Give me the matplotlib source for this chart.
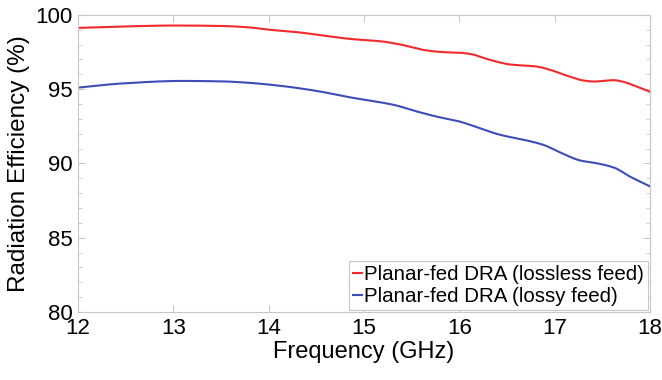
import numpy as np
import matplotlib
matplotlib.use("Agg")
import matplotlib.pyplot as plt
from matplotlib.ticker import MultipleLocator

plt.rcParams['font.family'] = ['Liberation Sans', 'DejaVu Sans']

# frequency points (GHz) and efficiencies (%)
freq_lossless = [12.0, 12.5, 13.0, 13.5, 13.8, 14.0, 14.33, 14.5, 14.85, 15.2, 15.38,
                 15.66, 15.83, 16.0, 16.11, 16.32, 16.53, 16.81, 16.95, 17.13,
                 17.3, 17.41, 17.62, 17.72, 17.86, 18.0]
eff_lossless = [99.12, 99.22, 99.28, 99.25, 99.15, 99.0, 98.81, 98.67, 98.38, 98.2, 98.0,
                97.6, 97.49, 97.45, 97.37, 96.97, 96.66, 96.52, 96.3, 95.9,
                95.58, 95.51, 95.6, 95.49, 95.17, 94.82]

freq_lossy = [12.0, 12.46, 13.09, 13.51, 13.8, 14.15, 14.5, 14.85, 15.31, 15.55,
              15.76, 16.0, 16.11, 16.43, 16.71, 16.88, 17.06, 17.27, 17.44,
              17.62, 17.79, 18.0]
eff_lossy = [95.1, 95.38, 95.55, 95.52, 95.42, 95.2, 94.88, 94.45, 93.94, 93.5,
             93.15, 92.82, 92.6, 91.92, 91.54, 91.25, 90.73, 90.19, 90.01,
             89.72, 89.11, 88.45]

labels = ['Planar-fed DRA (lossless feed)', 'Planar-fed DRA (lossy feed)']


def smooth(x, y, n=300):
    # monotone cubic (pchip-like) interpolation for drawing a smooth curve
    x = np.asarray(x, float)
    y = np.asarray(y, float)
    h = np.diff(x)
    d = np.diff(y) / h
    m = np.zeros_like(y)
    m[0], m[-1] = d[0], d[-1]
    for i in range(1, len(x) - 1):
        if d[i - 1] * d[i] > 0:
            w1 = 2 * h[i] + h[i - 1]
            w2 = h[i] + 2 * h[i - 1]
            m[i] = (w1 + w2) / (w1 / d[i - 1] + w2 / d[i])
    xs = np.linspace(x[0], x[-1], n)
    idx = np.clip(np.searchsorted(x, xs) - 1, 0, len(x) - 2)
    t = (xs - x[idx]) / h[idx]
    h00 = 2 * t**3 - 3 * t**2 + 1
    h10 = t**3 - 2 * t**2 + t
    h01 = -2 * t**3 + 3 * t**2
    h11 = t**3 - t**2
    ys = h00 * y[idx] + h10 * h[idx] * m[idx] + h01 * y[idx + 1] + h11 * h[idx] * m[idx + 1]
    return xs, ys


fig = plt.figure(figsize=(6.62, 3.80), dpi=100)
ax = fig.add_axes([0.118, 0.179, 0.864, 0.782])

xs, ys = smooth(freq_lossless, eff_lossless)
ax.plot(xs, ys, color='#f22a2a', lw=1.5, label=labels[0])
xs, ys = smooth(freq_lossy, eff_lossy)
ax.plot(xs, ys, color='#3d4db7', lw=1.5, label=labels[1])

ax.set_xlim(12, 18)
ax.set_ylim(80, 100)
ax.set_xticks(range(12, 19))
ax.set_yticks(range(80, 101, 5))
ax.yaxis.set_minor_locator(MultipleLocator(1))
ax.tick_params(which='both', direction='in', top=True, right=True,
               color='#c8c8c8', labelsize=16, pad=4)
ax.tick_params(which='major', length=5)
ax.tick_params(which='minor', length=3)
for s in ax.spines.values():
    s.set_color('#c8c8c8')
    s.set_linewidth(0.8)

ax.set_xlabel('Frequency (GHz)', fontsize=17, labelpad=2)
ax.set_ylabel('Radiation Efficiency (%)', fontsize=17.5, labelpad=4)

leg = ax.legend(loc='lower right', fontsize=14.8, handlelength=0.45,
                handletextpad=0.1, borderpad=0.2, labelspacing=0.12,
                borderaxespad=0.1, fancybox=False, framealpha=1)
leg.get_frame().set_edgecolor('#c8c8c8')
leg.get_frame().set_linewidth(0.8)

fig.savefig('out.png', dpi=100)
